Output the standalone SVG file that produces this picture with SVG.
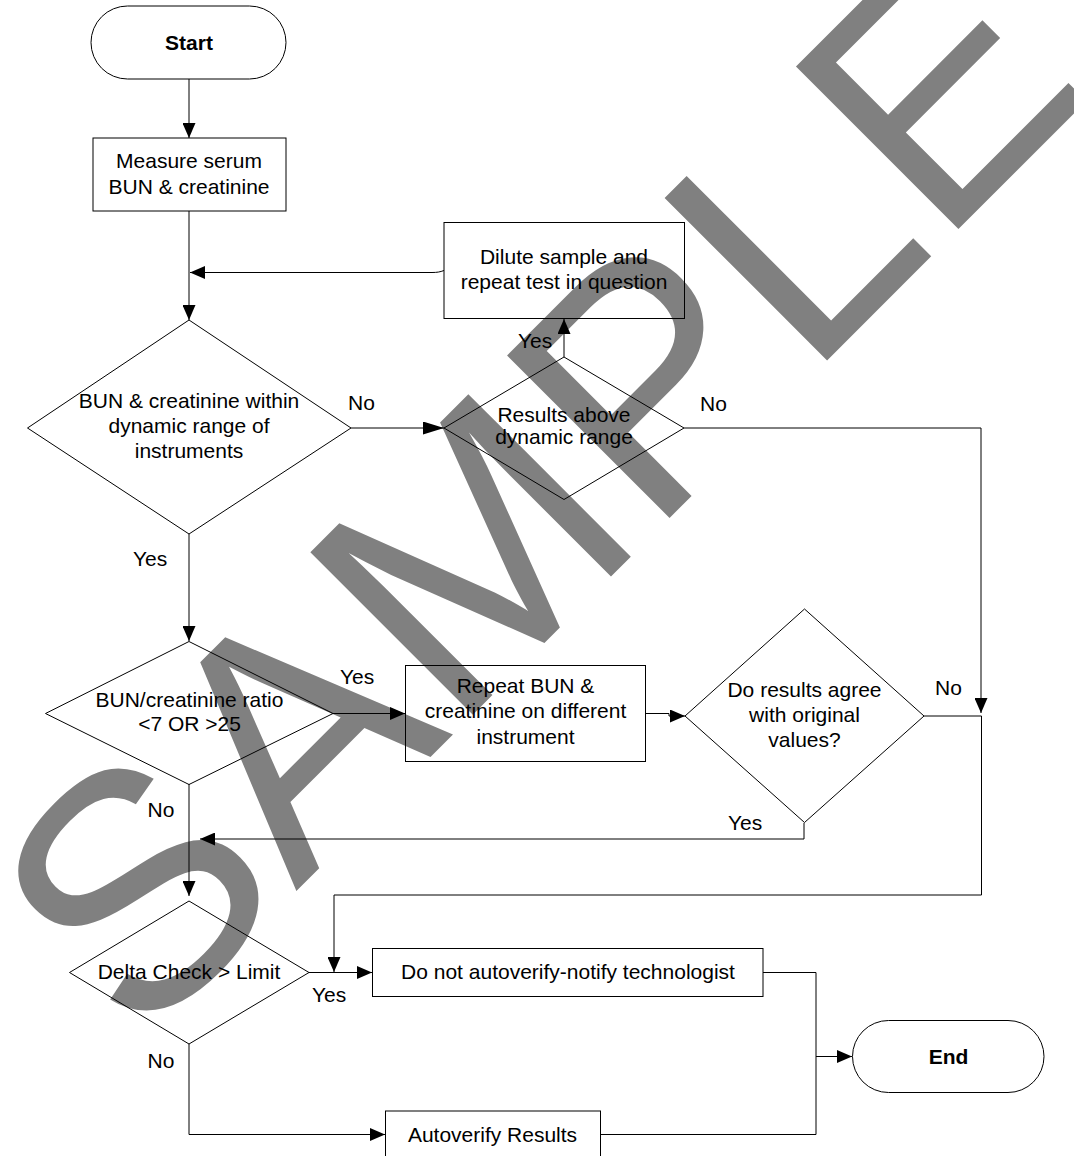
<svg xmlns="http://www.w3.org/2000/svg" width="1074" height="1156" viewBox="0 0 1074 1156">
<style>
  .shape { fill: none; stroke: #000; stroke-width: 1; }
  .conn { fill: none; stroke: #000; stroke-width: 1; }
  .t { font-family: "Liberation Sans", Arial, sans-serif; font-size: 21px; fill: #000; text-anchor: middle; }
  .b { font-weight: bold; }
  .lbl { font-family: "Liberation Sans", Arial, sans-serif; font-size: 21px; fill: #000; }
  .wm { font-family: "Liberation Sans", Arial, sans-serif; font-size: 334px; fill: #808080; }
</style>
<defs>
  <marker id="arrow" markerUnits="userSpaceOnUse" viewBox="0 0 15 13" refX="15" refY="6.5" markerWidth="15" markerHeight="13" orient="auto">
    <path d="M0,0 L15,6.5 L0,13 Z" fill="#000"/>
  </marker>
  <marker id="arrowL" markerUnits="userSpaceOnUse" viewBox="0 0 21 13" refX="21" refY="6.5" markerWidth="21" markerHeight="13" orient="auto">
    <path d="M0,0 L21,6.5 L0,13 Z" fill="#000"/>
  </marker>
</defs>
<rect width="1074" height="1156" fill="#fff"/>
<g id="watermark">
  <text class="wm" transform="translate(138.4,1049.1) rotate(-45)">SAMPLE</text>
</g>
<g id="connectors">
  <path class="conn" d="M189,79 V138" marker-end="url(#arrow)"/>
  <path class="conn" d="M189,211 V320" marker-end="url(#arrow)"/>
  <path class="conn" d="M444,270.5 C440,272 437,272.5 432,272.5 H190" marker-end="url(#arrow)"/>
  <path class="conn" d="M351,428 H444" marker-end="url(#arrowL)"/>
  <path class="conn" d="M564,357 V319" marker-end="url(#arrow)"/>
  <path class="conn" d="M684,428 H981 V713" marker-end="url(#arrow)"/>
  <path class="conn" d="M189,534 V641" marker-end="url(#arrow)"/>
  <path class="conn" d="M333,713.5 H405" marker-end="url(#arrow)"/>
  <path class="conn" d="M646,713.5 H669 V716 H685" marker-end="url(#arrow)"/>
  <path class="conn" d="M924,716 H981.5 V895 H334 V972" marker-end="url(#arrow)"/>
  <path class="conn" d="M804,823 V839 H200" marker-end="url(#arrow)"/>
  <path class="conn" d="M189,784 V896" marker-end="url(#arrow)"/>
  <path class="conn" d="M309,972.5 H372" marker-end="url(#arrow)"/>
  <path class="conn" d="M189,1044 V1134.5 H385" marker-end="url(#arrow)"/>
  <path class="conn" d="M763,972.5 H816 V1134.5 H600"/>
  <path class="conn" d="M816,1056.5 H852" marker-end="url(#arrow)"/>
</g>
<g id="labels">
  <text class="lbl" x="348" y="410">No</text>
  <text class="lbl" x="518" y="348">Yes</text>
  <text class="lbl" x="700" y="411">No</text>
  <text class="lbl" x="133" y="566">Yes</text>
  <text class="lbl" x="340" y="684">Yes</text>
  <text class="lbl" x="935" y="695">No</text>
  <text class="lbl" x="728" y="830">Yes</text>
  <text class="lbl" x="147.5" y="817">No</text>
  <text class="lbl" x="312" y="1002">Yes</text>
  <text class="lbl" x="147.5" y="1068">No</text>
</g>
<g id="start">
  <rect class="shape" x="91" y="6" width="195" height="73" rx="36.5" ry="36.5"/>
  <text class="t b" x="189" y="50">Start</text>
</g>
<g id="measure">
  <rect class="shape" x="93" y="138" width="193" height="73"/>
  <text class="t" x="189" y="168">Measure serum</text>
  <text class="t" x="189" y="194">BUN &amp; creatinine</text>
</g>
<g id="dilute">
  <rect class="shape" x="444" y="222.5" width="240.5" height="96"/>
  <text class="t" x="564" y="264">Dilute sample and</text>
  <text class="t" x="564" y="289">repeat test in question</text>
</g>
<g id="d_range">
  <polygon class="shape" points="189,320 351,428 189,534 27.5,428"/>
  <text class="t" x="189" y="408">BUN &amp; creatinine within</text>
  <text class="t" x="189" y="433">dynamic range of</text>
  <text class="t" x="189" y="458">instruments</text>
</g>
<g id="d_above">
  <polygon class="shape" points="564,357 684,428 564,499.5 444,428"/>
  <text class="t" x="564" y="422">Results above</text>
  <text class="t" x="564" y="444">dynamic range</text>
</g>
<g id="d_ratio">
  <polygon class="shape" points="189,641.5 333,713.5 189,784.5 45.5,713.5"/>
  <text class="t" x="189.5" y="707">BUN/creatinine ratio</text>
  <text class="t" x="189.5" y="731">&lt;7 OR &gt;25</text>
</g>
<g id="repeat">
  <rect class="shape" x="405.5" y="665.5" width="240" height="96"/>
  <text class="t" x="525.5" y="693">Repeat BUN &amp;</text>
  <text class="t" x="525.5" y="718">creatinine on different</text>
  <text class="t" x="525.5" y="744">instrument</text>
</g>
<g id="d_agree">
  <polygon class="shape" points="804.5,609 924,716 804.5,822.5 685,716"/>
  <text class="t" x="804.5" y="697">Do results agree</text>
  <text class="t" x="804.5" y="722">with original</text>
  <text class="t" x="804.5" y="747">values?</text>
</g>
<g id="d_delta">
  <polygon class="shape" points="189,901 309,972.5 189,1044 69.5,972.5"/>
  <text class="t" x="189" y="978.5">Delta Check &gt; Limit</text>
</g>
<g id="notify">
  <rect class="shape" x="372.5" y="948.5" width="390.5" height="48"/>
  <text class="t" x="568" y="978.5">Do not autoverify-notify technologist</text>
</g>
<g id="autoverify">
  <rect class="shape" x="385.5" y="1111" width="215" height="52"/>
  <text class="t" x="492.5" y="1142">Autoverify Results</text>
</g>
<g id="end">
  <rect class="shape" x="852.5" y="1020.5" width="191.5" height="72" rx="36" ry="36"/>
  <text class="t b" x="948.5" y="1063.5">End</text>
</g>
</svg>
